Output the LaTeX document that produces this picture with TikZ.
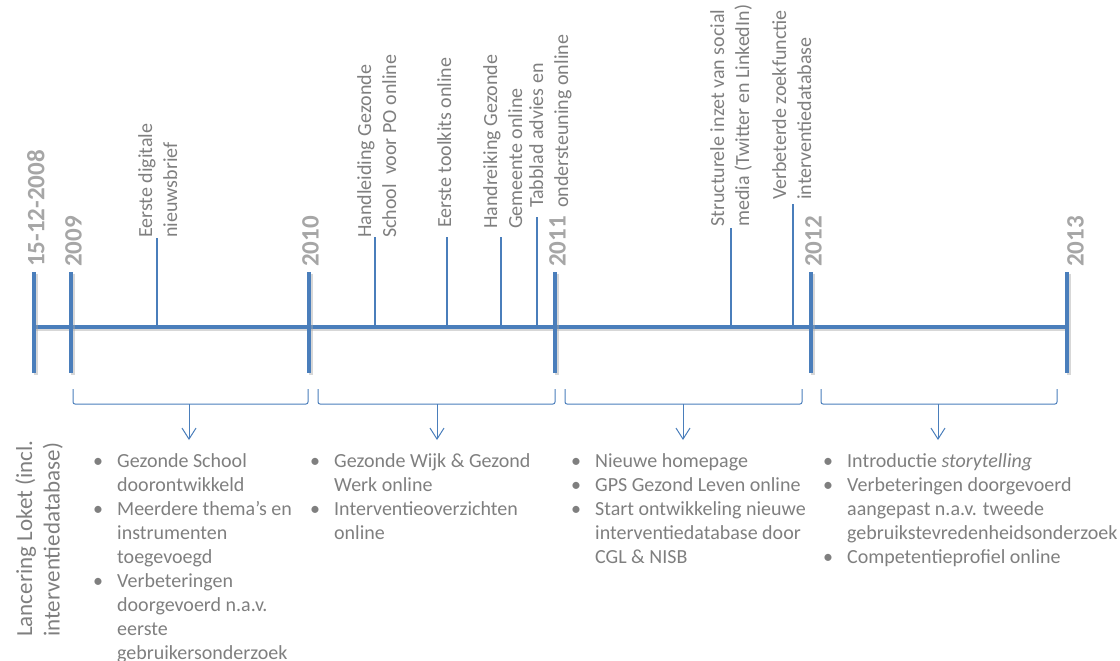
\documentclass[tikz,border=0pt]{standalone}
\usepackage{fontspec}
\setmainfont{Carlito}
\usetikzlibrary{arrows.meta}
\definecolor{axisblue}{HTML}{4A7EBB}
\definecolor{txtgray}{HTML}{7F7F7F}
\definecolor{yeargray}{HTML}{A6A6A6}
\newcommand\itembul{\makebox[24pt][l]{\textbullet}}
\begin{document}
\begin{tikzpicture}[x=1pt,y=-1pt,
  axis/.style={draw=axisblue, line width=4pt,
    preaction={draw=black!35, opacity=0.45, line width=4pt, transform canvas={shift={(1.5pt,-1.5pt)}}}},
  evtick/.style={draw=axisblue, line width=1.5pt},
  bracket/.style={draw=axisblue, line width=1pt, rounded corners=2pt},
  pointer/.style={draw=axisblue, line width=1pt, -{Straight Barb[length=11pt,width=14pt]}},
  year/.style={rotate=90, anchor=north west, inner sep=0pt, text=yeargray,
    font=\fontsize{25}{30}\selectfont\bfseries},
  evlabel/.style={rotate=90, anchor=north west, inner sep=0pt, align=left, text=txtgray,
    font=\fontsize{20}{25}\selectfont},
  group/.style={anchor=base west, inner sep=0pt, text=txtgray,
    font=\fontsize{20}{24}\selectfont},
]
\useasboundingbox (0,0) rectangle (1120,661);

% axis
\coordinate (a0) at (34,327);
\coordinate (aE) at (1067,327);
\draw[axis] (a0) -- (aE);

% year ticks
\foreach \n/\x in {t8/34,t9/71,t10/309,t11/555,t12/811,t13/1067}{
  \coordinate (\n top) at (\x,272);
  \coordinate (\n bot) at (\x,373);
  \draw[axis] (\n top) -- (\n bot);
}

% year labels
\node[year] (y2008) at (27,267) {15-12-2008};
\node[year] (y2009) at (65,267) {2009};
\node[year] (y2010) at (302,267) {2010};
\node[year] (y2011) at (549,267) {2011};
\node[year] (y2012) at (805,267) {2012};
\node[year] (y2013) at (1067,267) {2013};

% event ticks
\foreach \n/\x/\t in {e1/157/238,e2/375/237,e3/447/237,e4/501/237,e5/537/217,e6/731/228,e7/793/204}{
  \coordinate (\n top) at (\x,\t);
  \coordinate (\n bot) at (\x,327);
  \draw[evtick] (\n bot) -- (\n top);
}

% event labels
\node[evlabel] (l1) at (138,238) {Eerste digitale\\nieuwsbrief};
\node[evlabel] (l2) at (357,238) {Handleiding Gezonde\\School\ \ voor PO online};
\node[evlabel] (l3) at (437,228) {Eerste toolkits online};
\node[evlabel] (l4) at (483,229) {Handreiking Gezonde\\Gemeente online};
\node[evlabel] (l5) at (529,208) {Tabblad advies en\\ondersteuning online};
\node[evlabel] (l6) at (710,227) {Structurele inzet van social\\media (Twitter en LinkedIn)};
\node[evlabel] (l7) at (772,200) {Verbeterde zoekfunctie\\interventiedatabase};

% launch label
\node[rotate=90, anchor=north west, inner sep=0pt, align=left, text=txtgray,
  font=\fontsize{23}{27.5}\selectfont] (launch) at (15,637)
  {Lancering Loket (incl.\\interventiedatabase)};

% brackets
\foreach \n/\l/\r/\c in {b1/73/308/189,b2/318/555/437,b3/565/802/683,b4/821/1057/938}{
  \coordinate (\n lt) at (\l,389);
  \coordinate (\n lb) at (\l,404);
  \coordinate (\n rb) at (\r,404);
  \coordinate (\n rt) at (\r,389);
  \coordinate (\n c) at (\c,404);
  \coordinate (\n tip) at (\c,440);
  \draw[bracket] (\n lt) -- (\n lb) -- (\n rb) -- (\n rt);
  \draw[pointer] (\n c) -- (\n tip);
}

% bullet groups
\node[group] (g1) at (93,467) {\begin{tabular}[t]{@{}l@{}l@{}}
\itembul & Gezonde School\\
 & doorontwikkeld\\
\itembul & Meerdere thema’s en\\
 & instrumenten\\
 & toegevoegd\\
\itembul & Verbeteringen\\
 & doorgevoerd n.a.v.\\
 & eerste\\
 & gebruikersonderzoek
\end{tabular}};

\node[group] (g2) at (310,467) {\begin{tabular}[t]{@{}l@{}l@{}}
\itembul & Gezonde Wijk \& Gezond\\
 & Werk online\\
\itembul & Interventieoverzichten\\
 & online
\end{tabular}};

\node[group] (g3) at (571,467) {\begin{tabular}[t]{@{}l@{}l@{}}
\itembul & Nieuwe homepage\\
\itembul & GPS Gezond Leven online\\
\itembul & Start ontwikkeling nieuwe\\
 & interventiedatabase door\\
 & CGL \& NISB
\end{tabular}};

\node[group] (g4) at (823,467) {\begin{tabular}[t]{@{}l@{}l@{}}
\itembul & Introductie \textit{storytelling}\\
\itembul & Verbeteringen doorgevoerd\\
 & aangepast n.a.v. tweede\\
 & gebruikstevredenheidsonderzoek\\
\itembul & Competentieprofiel online
\end{tabular}};
\end{tikzpicture}
\end{document}
